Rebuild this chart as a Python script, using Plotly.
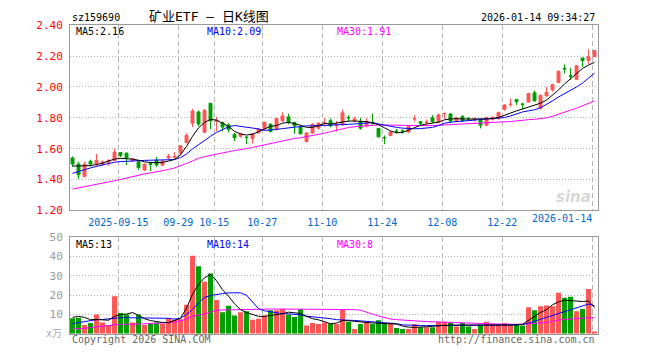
import plotly.graph_objects as go

# ---------------- data ----------------
dates = [
    "2025-09-03", "2025-09-04", "2025-09-05", "2025-09-08", "2025-09-09", "2025-09-10", "2025-09-11", "2025-09-12",
    "2025-09-15", "2025-09-16", "2025-09-17", "2025-09-18", "2025-09-19",
    "2025-09-22", "2025-09-23", "2025-09-24", "2025-09-25", "2025-09-26",
    "2025-09-29", "2025-09-30",
    "2025-10-09", "2025-10-10",
    "2025-10-13", "2025-10-14", "2025-10-15", "2025-10-16", "2025-10-17",
    "2025-10-20", "2025-10-21", "2025-10-22", "2025-10-23", "2025-10-24",
    "2025-10-27", "2025-10-28", "2025-10-29", "2025-10-30", "2025-10-31",
    "2025-11-03", "2025-11-04", "2025-11-05", "2025-11-06", "2025-11-07",
    "2025-11-10", "2025-11-11", "2025-11-12", "2025-11-13", "2025-11-14",
    "2025-11-17", "2025-11-18", "2025-11-19", "2025-11-20", "2025-11-21",
    "2025-11-24", "2025-11-25", "2025-11-26", "2025-11-27", "2025-11-28",
    "2025-12-01", "2025-12-02", "2025-12-03", "2025-12-04", "2025-12-05",
    "2025-12-08", "2025-12-09", "2025-12-10", "2025-12-11", "2025-12-12",
    "2025-12-15", "2025-12-16", "2025-12-17", "2025-12-18", "2025-12-19",
    "2025-12-22", "2025-12-23", "2025-12-24", "2025-12-25", "2025-12-26",
    "2025-12-29", "2025-12-30", "2025-12-31",
    "2026-01-05", "2026-01-06", "2026-01-07", "2026-01-08", "2026-01-09",
    "2026-01-12", "2026-01-13", "2026-01-14",
]

opens = [1.540, 1.500, 1.420, 1.519, 1.500, 1.500, 1.508, 1.523, 1.575, 1.571,
         1.521, 1.515, 1.462, 1.504, 1.525, 1.494, 1.540, 1.545, 1.573, 1.640,
         1.765, 1.838, 1.706, 1.894, 1.778, 1.769, 1.754, 1.692, 1.681, 1.675,
         1.665, 1.702, 1.729, 1.758, 1.723, 1.781, 1.806, 1.769, 1.740, 1.646,
         1.702, 1.733, 1.767, 1.781, 1.748, 1.754, 1.802, 1.779, 1.777, 1.748,
         1.769, 1.731, 1.673, 1.685, 1.714, 1.716, 1.708, 1.792, 1.775, 1.770,
         1.800, 1.771, 1.826, 1.825, 1.779, 1.808, 1.796, 1.787, 1.787, 1.752,
         1.790, 1.794, 1.856, 1.886, 1.919, 1.890, 1.902, 1.962, 1.862, 1.942,
         1.981, 2.029, 2.121, 2.073, 2.050, 2.188, 2.171, 2.196]
highs = [1.550, 1.515, 1.515, 1.529, 1.567, 1.523, 1.531, 1.600, 1.577, 1.575,
         1.540, 1.525, 1.504, 1.515, 1.546, 1.525, 1.566, 1.577, 1.623, 1.698,
         1.858, 1.848, 1.858, 1.896, 1.806, 1.775, 1.765, 1.702, 1.702, 1.680,
         1.702, 1.731, 1.775, 1.765, 1.800, 1.837, 1.827, 1.775, 1.744, 1.708,
         1.765, 1.771, 1.800, 1.796, 1.779, 1.852, 1.817, 1.806, 1.800, 1.796,
         1.827, 1.735, 1.685, 1.712, 1.727, 1.725, 1.748, 1.817, 1.777, 1.790,
         1.817, 1.827, 1.831, 1.831, 1.806, 1.817, 1.804, 1.802, 1.792, 1.806,
         1.810, 1.840, 1.888, 1.925, 1.921, 1.894, 1.962, 1.977, 1.952, 2.000,
         2.021, 2.106, 2.146, 2.125, 2.140, 2.190, 2.244, 2.240]
lows = [1.483, 1.404, 1.414, 1.483, 1.483, 1.487, 1.490, 1.519, 1.544, 1.494,
        1.515, 1.462, 1.456, 1.456, 1.483, 1.487, 1.531, 1.535, 1.556, 1.635,
        1.740, 1.744, 1.702, 1.727, 1.713, 1.713, 1.706, 1.650, 1.671, 1.629,
        1.633, 1.700, 1.723, 1.706, 1.719, 1.771, 1.758, 1.696, 1.692, 1.640,
        1.696, 1.723, 1.744, 1.738, 1.712, 1.750, 1.775, 1.769, 1.723, 1.738,
        1.754, 1.671, 1.629, 1.681, 1.698, 1.698, 1.702, 1.775, 1.746, 1.750,
        1.765, 1.765, 1.792, 1.765, 1.775, 1.773, 1.785, 1.775, 1.731, 1.746,
        1.783, 1.790, 1.846, 1.871, 1.883, 1.856, 1.898, 1.904, 1.854, 1.938,
        1.969, 2.025, 2.087, 2.046, 2.046, 2.129, 2.150, 2.196]
closes = [1.500, 1.431, 1.500, 1.500, 1.525, 1.515, 1.523, 1.577, 1.556, 1.540,
          1.535, 1.477, 1.500, 1.498, 1.494, 1.521, 1.552, 1.550, 1.619, 1.685,
          1.844, 1.760, 1.848, 1.780, 1.785, 1.740, 1.725, 1.671, 1.696, 1.673,
          1.696, 1.727, 1.771, 1.712, 1.796, 1.812, 1.771, 1.748, 1.696, 1.702,
          1.758, 1.765, 1.769, 1.748, 1.752, 1.833, 1.800, 1.792, 1.733, 1.777,
          1.765, 1.677, 1.671, 1.708, 1.712, 1.714, 1.744, 1.794, 1.765, 1.772,
          1.775, 1.819, 1.829, 1.779, 1.800, 1.779, 1.794, 1.794, 1.752, 1.800,
          1.804, 1.835, 1.883, 1.888, 1.904, 1.888, 1.958, 1.910, 1.946, 1.965,
          2.015, 2.102, 2.117, 2.069, 2.137, 2.171, 2.196, 2.237]

ma5 = [1.487, 1.487, 1.488, 1.49, 1.497, 1.505, 1.52, 1.532, 1.537, 1.536,
       1.532, 1.525, 1.515, 1.51, 1.508, 1.51, 1.52, 1.53, 1.56, 1.615,
       1.68, 1.735, 1.77, 1.79, 1.785, 1.765, 1.745, 1.712, 1.696, 1.688,
       1.694, 1.71, 1.73, 1.745, 1.75, 1.765, 1.771, 1.763, 1.752, 1.738,
       1.738, 1.749, 1.764, 1.759, 1.765, 1.775, 1.779, 1.779, 1.779, 1.775,
       1.768, 1.755, 1.735, 1.715, 1.703, 1.705, 1.72, 1.737, 1.752, 1.76,
       1.765, 1.772, 1.787, 1.793, 1.794, 1.795, 1.792, 1.792, 1.792, 1.792,
       1.795, 1.802, 1.818, 1.834, 1.845, 1.857, 1.87, 1.884, 1.895, 1.915,
       1.945, 1.98, 2.02, 2.055, 2.09, 2.12, 2.142, 2.16]
ma10 = [1.44, 1.452, 1.467, 1.475, 1.485, 1.495, 1.504, 1.512, 1.516, 1.519,
        1.521, 1.522, 1.524, 1.525, 1.525, 1.525, 1.525, 1.529, 1.542, 1.565,
        1.598, 1.627, 1.655, 1.68, 1.705, 1.725, 1.742, 1.75, 1.745, 1.738,
        1.735, 1.728, 1.718, 1.72, 1.725, 1.73, 1.735, 1.738, 1.742, 1.748,
        1.748, 1.748, 1.75, 1.753, 1.756, 1.757, 1.758, 1.76, 1.763, 1.766,
        1.769, 1.76, 1.752, 1.746, 1.738, 1.733, 1.73, 1.729, 1.73, 1.732,
        1.738, 1.75, 1.765, 1.772, 1.775, 1.778, 1.781, 1.784, 1.787, 1.789,
        1.792, 1.797, 1.802, 1.812, 1.825, 1.838, 1.845, 1.852, 1.865, 1.885,
        1.91, 1.935, 1.955, 1.98, 2.0, 2.025, 2.06, 2.09]
ma30 = [1.338, 1.345, 1.352, 1.36, 1.367, 1.375, 1.383, 1.392, 1.4, 1.41,
        1.42, 1.43, 1.437, 1.443, 1.449, 1.455, 1.465, 1.475, 1.488, 1.504,
        1.52, 1.538, 1.548, 1.557, 1.565, 1.573, 1.58, 1.588, 1.592, 1.6,
        1.608, 1.617, 1.625, 1.632, 1.642, 1.65, 1.658, 1.666, 1.671, 1.678,
        1.684, 1.692, 1.7, 1.71, 1.72, 1.728, 1.737, 1.742, 1.746, 1.75,
        1.752, 1.754, 1.753, 1.752, 1.752, 1.751, 1.75, 1.75, 1.75, 1.749,
        1.75, 1.752, 1.754, 1.755, 1.756, 1.757, 1.759, 1.762, 1.765, 1.767,
        1.769, 1.771, 1.773, 1.776, 1.78, 1.785, 1.788, 1.79, 1.795, 1.8,
        1.81, 1.825, 1.838, 1.85, 1.862, 1.877, 1.893, 1.91]

volume = [8.0, 8.3, 4.5, 5.5, 10.0, 5.8, 4.5, 19.5, 10.8, 10.0,
          5.8, 10.0, 4.5, 5.5, 5.8, 5.0, 8.0, 7.2, 7.5, 15.0,
          40.5, 35.0, 27.0, 31.3, 17.5, 11.2, 14.5, 9.5, 11.2, 11.7,
          7.2, 7.8, 9.5, 12.2, 12.2, 12.8, 10.0, 8.7, 12.8, 4.2,
          5.5, 5.0, 5.8, 5.3, 5.0, 12.8, 6.2, 2.5, 5.0, 6.2,
          5.0, 7.0, 5.5, 5.3, 3.0, 2.5, 2.5, 5.0, 3.3, 3.3,
          3.3, 6.2, 6.2, 5.8, 3.8, 5.5, 3.7, 2.5, 4.5, 6.2,
          5.0, 5.0, 5.5, 4.5, 4.5, 4.2, 13.7, 12.2, 14.2, 14.7,
          14.2, 21.2, 18.7, 19.2, 11.7, 12.8, 23.2, 1.2]
vol_ma5 = [8.5, 9.0, 8.5, 7.3, 7.4, 7.2, 7.0, 9.0, 10.0, 10.2,
           11.0, 9.5, 7.8, 6.8, 6.2, 5.8, 5.8, 7.0, 8.0, 13.3,
           20.5, 25.5, 29.0, 30.8, 27.5, 22.8, 19.5, 15.5, 12.5, 11.0,
           10.2, 9.0, 9.0, 9.5, 9.8, 10.4, 11.2, 11.0, 10.5, 9.0,
           7.8, 7.2, 6.2, 5.2, 5.5, 6.8, 6.8, 6.4, 6.0, 5.8,
           5.6, 5.5, 5.5, 5.2, 5.0, 4.0, 3.4, 3.3, 3.3, 3.6,
           3.9, 4.2, 4.5, 4.5, 4.5, 4.5, 4.5, 4.5, 4.5, 4.5,
           4.5, 4.5, 4.5, 4.5, 4.5, 4.9, 7.0, 9.2, 11.0, 12.5,
           15.0, 16.5, 17.4, 17.2, 16.8, 16.7, 17.0, 13.6]
vol_ma10 = [5.2, 5.8, 6.3, 7.0, 7.3, 7.4, 7.8, 8.2, 8.3, 8.3,
            8.3, 8.3, 8.3, 8.3, 8.3, 8.3, 8.0, 7.6, 8.0, 10.0,
            12.5, 16.0, 18.8, 19.8, 20.4, 20.8, 21.2, 21.3, 21.2, 20.0,
            16.5, 13.0, 11.9, 11.3, 10.7, 10.4, 10.3, 10.1, 9.8, 9.1,
            8.8, 8.7, 8.3, 7.8, 7.3, 7.0, 7.0, 6.9, 6.7, 6.3,
            6.0, 5.8, 5.6, 5.4, 5.2, 4.6, 4.4, 4.3, 4.2, 4.2,
            4.2, 4.3, 4.4, 4.5, 4.5, 4.5, 4.5, 4.5, 4.5, 4.5,
            4.5, 4.5, 4.5, 4.6, 4.7, 4.8, 5.5, 6.5, 7.4, 8.3,
            9.3, 10.5, 11.5, 12.5, 13.3, 14.2, 15.4, 14.5]
vol_ma30 = [2.5, 2.6, 2.8, 3.2, 3.6, 4.0, 4.3, 4.6, 4.8, 5.0,
            5.0, 5.0, 5.1, 5.3, 5.4, 5.5, 5.7, 6.0, 6.6, 7.5,
            9.2, 9.8, 10.2, 11.2, 12.1, 12.3, 12.4, 12.5, 12.5, 12.5,
            12.5, 12.6, 12.8, 12.8, 12.8, 12.8, 12.8, 12.8, 12.8, 12.7,
            12.6, 12.5, 12.5, 12.5, 12.5, 12.5, 12.5, 12.5, 12.2, 11.0,
            10.2, 9.2, 8.4, 7.6, 7.3, 7.0, 6.9, 6.7, 6.5, 6.3,
            6.2, 6.0, 5.8, 5.7, 5.5, 5.3, 5.3, 5.2, 5.1, 5.0,
            5.0, 5.0, 4.9, 4.9, 4.8, 4.9, 5.2, 5.4, 5.6, 5.8,
            6.4, 7.1, 7.4, 7.7, 7.9, 8.1, 8.3, 8.3]

tick_dates = ["2025-09-15", "2025-09-29", "2025-10-15", "2025-10-27", "2025-11-10",
              "2025-11-24", "2025-12-08", "2025-12-22", "2026-01-14"]
tick_labels = ["2025-09-15", "09-29", "10-15", "10-27", "11-10",
               "11-24", "12-08", "12-22", "2026-01-14"]
price_ticks = [1.20, 1.40, 1.60, 1.80, 2.00, 2.20, 2.40]
vol_ticks = [10, 20, 30, 40, 50]

# ---------------- styling ----------------
W, H = 660, 360
RED = "#ff5555"
GREEN = "#009f00"
MONO = "DejaVu Sans Mono, Liberation Mono, monospace"
CJK = "DejaVu Sans Mono, Noto Sans CJK SC, sans-serif"
GRID = "#b4b4b4"
FRAME = "#999999"


def px(x):
    return x / W


def py(y):
    return 1 - y / H


idx = list(range(len(dates)))
GRID_SHIFT = -0.37
tickvals = [dates.index(d) + GRID_SHIFT for d in tick_dates]

up = [c >= o for o, c in zip(opens, closes)]
vol_colors = [RED if u else GREEN for u in up]

fig = go.Figure()

fig.add_trace(go.Candlestick(
    x=idx, open=opens, high=highs, low=lows, close=closes,
    increasing=dict(line=dict(color=RED, width=1), fillcolor=RED),
    decreasing=dict(line=dict(color=GREEN, width=1), fillcolor=GREEN),
    whiskerwidth=0, xaxis="x", yaxis="y", showlegend=False, hoverinfo="skip",
))
for arr, col in [(ma30, "#ff00ff"), (ma10, "#0000ff"), (ma5, "#000000")]:
    fig.add_trace(go.Scatter(x=idx, y=arr, mode="lines", line=dict(color=col, width=1),
                             xaxis="x", yaxis="y", showlegend=False, hoverinfo="skip"))

fig.add_trace(go.Bar(x=idx, y=volume, marker=dict(color=vol_colors, line=dict(width=0)),
                     xaxis="x2", yaxis="y2", showlegend=False, hoverinfo="skip"))
for arr, col in [(vol_ma30, "#ff00ff"), (vol_ma10, "#0000ff"), (vol_ma5, "#000000")]:
    fig.add_trace(go.Scatter(x=idx, y=arr, mode="lines", line=dict(color=col, width=1),
                             xaxis="x2", yaxis="y2", showlegend=False, hoverinfo="skip"))

xrange = [-0.42, len(dates) - 1 + 0.53]
xdom = [px(70), px(597.7)]

common_x = dict(
    range=xrange, domain=xdom, showline=True, mirror=True, linecolor=FRAME, linewidth=1,
    showgrid=True, gridcolor=GRID, griddash="5px,3px", gridwidth=1,
    tickmode="array", tickvals=tickvals, zeroline=False, ticks="", fixedrange=True,
)

fig.update_layout(
    width=W, height=H,
    margin=dict(l=0, r=0, t=0, b=0),
    paper_bgcolor="white", plot_bgcolor="white",
    bargap=0.17, boxgap=0.3,
    showlegend=False,
    xaxis=dict(**common_x, anchor="y", rangeslider=dict(visible=False),
               ticktext=tick_labels[:-1] + [""], ticklabelstandoff=3,
               tickfont=dict(family=MONO, size=10, color="#0066cc")),
    yaxis=dict(domain=[py(212), py(20)], range=[1.20, 2.40], anchor="x",
               showline=True, mirror=True, linecolor=FRAME, linewidth=1,
               showgrid=True, gridcolor=GRID, griddash="1px,2px", gridwidth=1,
               tickmode="array", tickvals=price_ticks,
               ticktext=["%.2f" % v for v in price_ticks],
               tickfont=dict(family=MONO, size=11, color="#ff0000"),
               ticks="", ticklabelstandoff=4, zeroline=False, fixedrange=True),
    xaxis2=dict(**common_x, anchor="y2", showticklabels=False),
    yaxis2=dict(domain=[py(340), py(240)], range=[0, 50], anchor="x2",
                showline=True, mirror=True, linecolor=FRAME, linewidth=1,
                showgrid=True, gridcolor=GRID, griddash="1px,2px", gridwidth=1,
                tickmode="array", tickvals=vol_ticks, ticktext=[str(v) for v in vol_ticks],
                tickfont=dict(family=MONO, size=11, color="#999999"),
                ticks="", ticklabelstandoff=4, zeroline=False, fixedrange=True),
)

ann = []


def text(x, y, s, color="#000000", size=10, xanchor="left", family=MONO, xref="paper"):
    ann.append(dict(x=x if xref != "paper" else px(x), y=py(y), xref=xref, yref="paper",
                    text=s, showarrow=False, xanchor=xanchor, yanchor="middle",
                    font=dict(family=family, size=size, color=color)))


text(70, 12, "sz159690")
text(209, 11, "矿业ETF — 日K线图", size=13, xanchor="center", family=CJK)
text(597, 12, "2026-01-14 09:34:27", xanchor="right")

text(74, 26, "MA5:%.2f" % ma5[-1])
text(205, 26, "MA10:%.2f" % ma10[-1], color="#0000ff")
text(335, 26, "MA30:%.2f" % ma30[-1], color="#ff00ff")

text(74, 247, "MA5:%d" % round(vol_ma5[-1] - 0.5))
text(205, 247, "MA10:%d" % round(vol_ma10[-1] - 0.5), color="#0000ff")
text(335, 247, "MA30:%d" % round(vol_ma30[-1]), color="#ff00ff")

# last date label, right-aligned to its grid line
ann.append(dict(x=tickvals[-1] + 0.2, y=py(220), xref="x", yref="paper", text=tick_labels[-1],
                showarrow=False, xanchor="right", yanchor="middle",
                font=dict(family=MONO, size=10, color="#0066cc")))

text(64, 340, "x万", color="#aaaaaa", size=10, xanchor="right", family=CJK)
text(70, 346, "Copyright 2026 SINA.COM", color="#666666")
text(597, 346, "http://finance.sina.com.cn", color="#666666", xanchor="right")

ann.append(dict(x=px(593), y=py(198), xref="paper", yref="paper", text="<b><i>sina</i></b>",
                showarrow=False, xanchor="right", yanchor="middle",
                font=dict(family="DejaVu Sans, sans-serif", size=15, color="#d8d8d8")))

fig.update_layout(annotations=ann)

fig.write_html("out.html", config={"displayModeBar": False, "staticPlot": True})
